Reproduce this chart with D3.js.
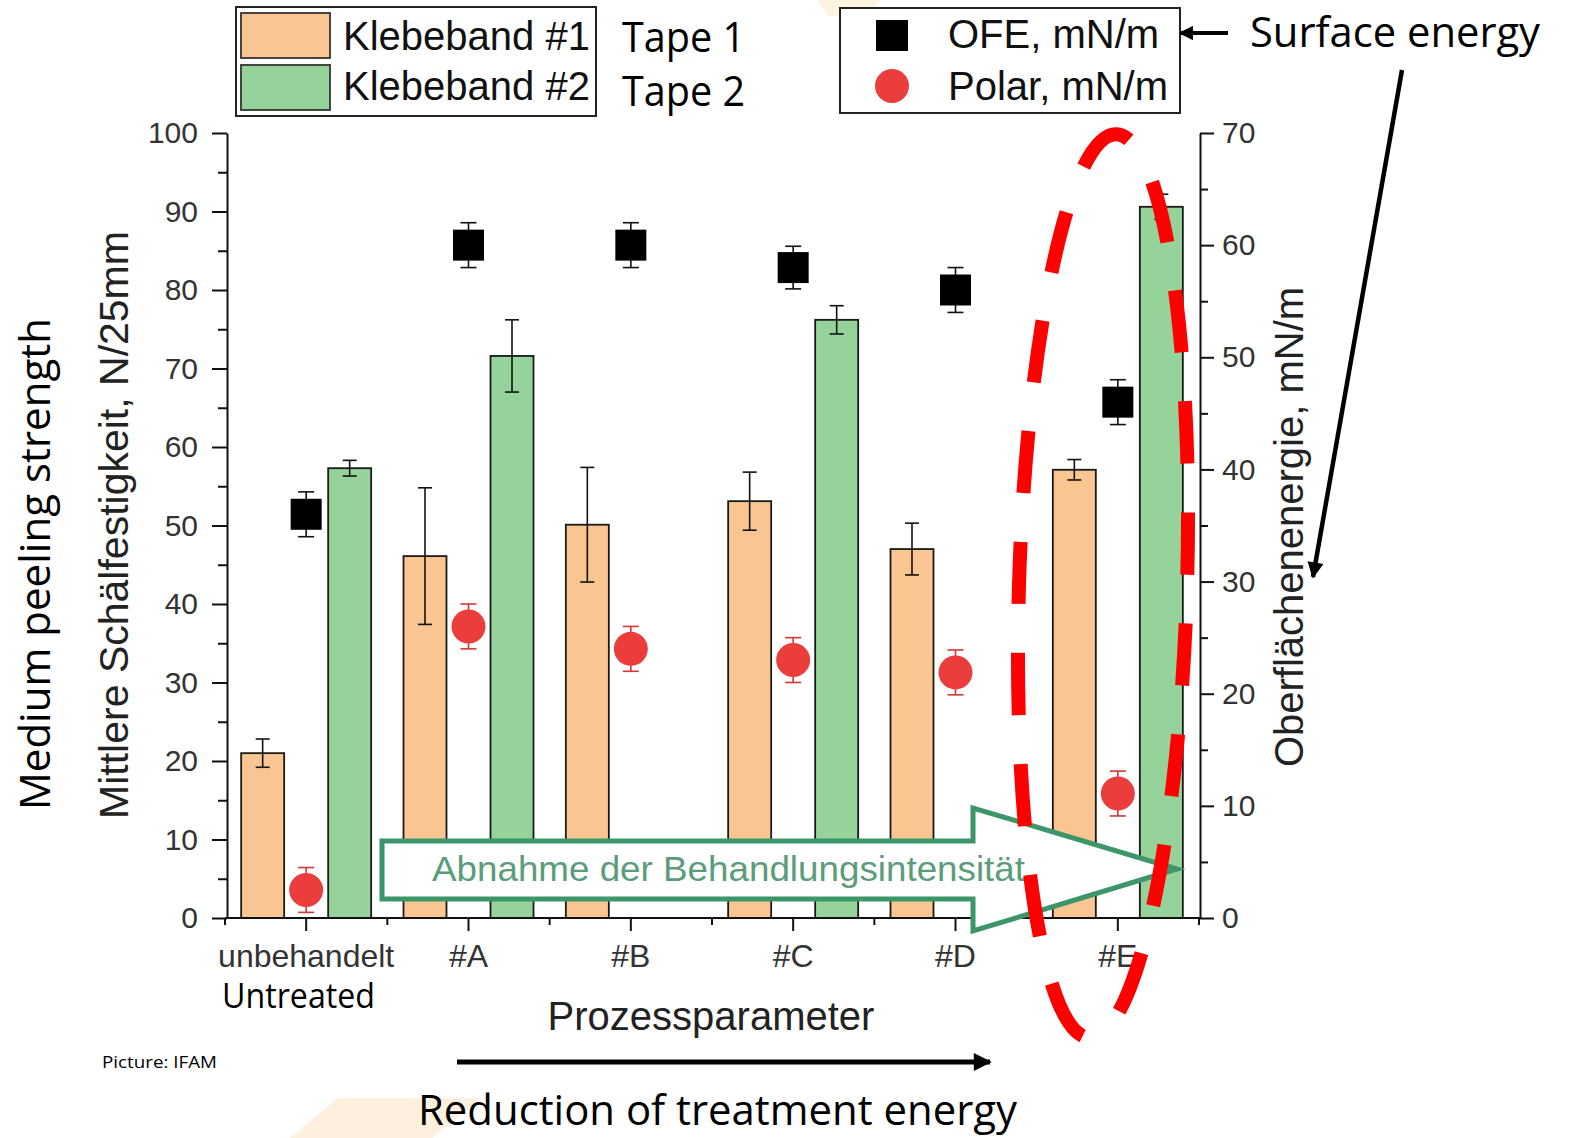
<!DOCTYPE html>
<meta charset="utf-8">
<head>
<style>
  body { margin: 0; background: #fff; }
  svg { display: block; }
  .tick text { font-family: "Liberation Sans", Arial, sans-serif; fill: #333; }
  .axis path, .axis line { stroke: #111; stroke-width: 2px; }
  .arial { font-family: "Liberation Sans", Arial, sans-serif; }
  .calibri { font-family: "Open Sans", sans-serif; fill: #000; }
</style>
</head>
<body>
<svg width="1570" height="1138"></svg>
<script src="https://d3js.org/d3.v7.min.js"></script>
<script>

// ---- data ----
var categories = ["unbehandelt", "#A", "#B", "#C", "#D", "#E"];
var tape1    = [21.0, 46.1, 50.1, 53.1, 47.0, 57.1];   // N/25mm
var tape1Err = [1.8, 8.7, 7.3, 3.7, 3.3, 1.3];
var tape2    = [57.3, 71.6, null, 76.2, null, 90.6];
var tape2Err = [1.0, 4.6, null, 1.8, null, 1.6];
var ofe      = [36.0, 60.0, 60.0, 58.0, 56.0, 46.0];   // mN/m, right axis
var ofeErr   = [2.0, 2.0, 2.0, 1.9, 2.0, 2.0];
var polar    = [2.5, 26.0, 24.0, 23.0, 21.9, 11.1];
var polarErr = [2.0, 2.0, 2.0, 2.0, 2.0, 2.0];
var leftTicks  = [0, 10, 20, 30, 40, 50, 60, 70, 80, 90, 100];
var rightTicks = [0, 10, 20, 30, 40, 50, 60, 70];

var svg = d3.select("svg");

var orange = "#f9c692", green = "#95d39a", red = "#ec3d3d", arrowGreen = "#3d9669";

// faint background logo pieces
svg.append("polygon").attr("points", "290,1138 338,1098 480,1098 432,1138").attr("fill", "#fdf0de");
svg.append("polygon").attr("points", "818,0 880,0 868,16 828,16").attr("fill", "#fdf1df");

var x = d3.scaleBand().domain(categories).range([225, 1199]).paddingInner(0).paddingOuter(0);
var yL = d3.scaleLinear().domain([0, 100]).range([918, 133]);
var yR = d3.scaleLinear().domain([0, 70]).range([918, 133]);
var cx = function(i) { return x(categories[i]) + x.bandwidth() / 2; };
var off = x.bandwidth() * 0.268, bw = 43;

// ---- bars ----
function bars(vals, errs, dx, fill) {
  var g = svg.append("g");
  vals.forEach(function(v, i) {
    if (v == null) return;
    g.append("rect")
      .attr("x", cx(i) + dx - bw / 2).attr("width", bw)
      .attr("y", yL(v)).attr("height", yL(0) - yL(v))
      .attr("fill", fill).attr("stroke", "#1a1a1a").attr("stroke-width", 1.8);
  });
  vals.forEach(function(v, i) {
    if (v == null) return;
    errBar(g, cx(i) + dx, yL(v + errs[i]), yL(v - errs[i]), 14, "#111", 1.6);
  });
}

function errBar(g, xc, y1, y2, w, col, sw) {
  g.append("line").attr("x1", xc).attr("x2", xc).attr("y1", y1).attr("y2", y2)
    .attr("stroke", col).attr("stroke-width", sw);
  [y1, y2].forEach(function(yy) {
    g.append("line").attr("x1", xc - w / 2).attr("x2", xc + w / 2).attr("y1", yy).attr("y2", yy)
      .attr("stroke", col).attr("stroke-width", sw);
  });
}

bars(tape1, tape1Err, -off, orange);
bars(tape2, tape2Err, off, green);

// ---- markers on right axis ----
var mk = svg.append("g");
ofe.forEach(function(v, i) {
  errBar(mk, cx(i), yR(v + ofeErr[i]), yR(v - ofeErr[i]), 16, "#111", 1.6);
  mk.append("rect").attr("x", cx(i) - 15.5).attr("y", yR(v) - 15.5)
    .attr("width", 31).attr("height", 31).attr("fill", "#000");
});
polar.forEach(function(v, i) {
  errBar(mk, cx(i), yR(v + polarErr[i]), yR(v - polarErr[i]), 16, "#d43535", 1.6);
  mk.append("circle").attr("cx", cx(i)).attr("cy", yR(v)).attr("r", 17).attr("fill", red);
});

// ---- axes ----
var gl = svg.append("g").attr("class", "axis").attr("transform", "translate(227,0)")
  .call(d3.axisLeft(yL).tickValues(leftTicks).tickSize(15).tickPadding(14).tickSizeOuter(0));
gl.selectAll(".tick text").style("font-size", "30px");
svg.append("g").attr("class", "axis").attr("transform", "translate(227,0)")
  .call(d3.axisLeft(yL).tickValues(d3.range(5, 100, 10)).tickSize(9).tickFormat("").tickSizeOuter(0))
  .select(".domain").remove();

var gr = svg.append("g").attr("class", "axis").attr("transform", "translate(1200,0)")
  .call(d3.axisRight(yR).tickValues(rightTicks).tickSize(14).tickPadding(8).tickSizeOuter(0));
gr.selectAll(".tick text").style("font-size", "30px");
svg.append("g").attr("class", "axis").attr("transform", "translate(1200,0)")
  .call(d3.axisRight(yR).tickValues(d3.range(5, 70, 10)).tickSize(8).tickFormat("").tickSizeOuter(0))
  .select(".domain").remove();

var gb = svg.append("g").attr("class", "axis").attr("transform", "translate(0,918)")
  .call(d3.axisBottom(x).tickSize(13).tickPadding(12).tickSizeOuter(0));
gb.selectAll(".tick text").style("font-size", "32px").attr("dy", "0.75em");
gb.select(".domain").attr("d", "M225,0H1200");
svg.append("g").attr("class", "axis").attr("transform", "translate(0,918)")
  .selectAll("line").data(categories.concat(["end"])).join("line")
  .attr("x1", function(d, i) { return 225 + i * x.bandwidth(); })
  .attr("x2", function(d, i) { return 225 + i * x.bandwidth(); })
  .attr("y1", 0).attr("y2", 7);

// axis titles
svg.append("text").attr("class", "arial").attr("transform", "translate(128,525) rotate(-90)")
  .attr("text-anchor", "middle").style("font-size", "41px").attr("fill", "#222")
  .text("Mittlere Schälfestigkeit,  N/25mm");
svg.append("text").attr("class", "arial").attr("transform", "translate(1303,527) rotate(-90)")
  .attr("text-anchor", "middle").style("font-size", "40px").attr("fill", "#222")
  .text("Oberflächenenergie, mN/m");
svg.append("text").attr("class", "arial").attr("x", 711).attr("y", 1030)
  .attr("text-anchor", "middle").style("font-size", "40px").attr("fill", "#222")
  .text("Prozessparameter");

// ---- green arrow ----
var arrowPts = [[382, 841], [973, 841], [973, 808], [1177, 869], [973, 931], [973, 899], [382, 899]];
svg.append("polygon").attr("points", arrowPts.map(function(p) { return p.join(","); }).join(" "))
  .attr("fill", "#fff").attr("stroke", arrowGreen).attr("stroke-width", 5).attr("stroke-linejoin", "miter");
svg.append("text").attr("class", "arial").attr("x", 432).attr("y", 881)
  .attr("textLength", 593).attr("lengthAdjust", "spacingAndGlyphs")
  .style("font-size", "35px").attr("fill", "#5b9c7b")
  .text("Abnahme der Behandlungsintensität");

// ---- red dashed ellipse ----
svg.append("ellipse").attr("cx", 0).attr("cy", 0).attr("rx", 84).attr("ry", 452)
  .attr("transform", "translate(1103,586) rotate(1.7)")
  .attr("pathLength", 1700)
  .attr("fill", "none").attr("stroke", "#ff0000").attr("stroke-width", 14)
  .attr("stroke-dasharray", "56 44").attr("stroke-dashoffset", 68.5);

// ---- legends ----
var lg1 = svg.append("g");
lg1.append("rect").attr("x", 236).attr("y", 7).attr("width", 360).attr("height", 109)
  .attr("fill", "#fff").attr("stroke", "#222").attr("stroke-width", 2);
[["Klebeband #1", orange], ["Klebeband #2", green]].forEach(function(d, i) {
  lg1.append("rect").attr("x", 241).attr("y", 13 + i * 52).attr("width", 89).attr("height", 45)
    .attr("fill", d[1]).attr("stroke", "#333").attr("stroke-width", 1.8);
  lg1.append("text").attr("class", "arial").attr("x", 343).attr("y", 50 + i * 50)
    .style("font-size", "40px").attr("fill", "#111").text(d[0]);
});

var lg2 = svg.append("g");
lg2.append("rect").attr("x", 840).attr("y", 8).attr("width", 340).attr("height", 105)
  .attr("fill", "#fff").attr("stroke", "#222").attr("stroke-width", 2);
lg2.append("rect").attr("x", 876).attr("y", 20).attr("width", 32).attr("height", 31).attr("fill", "#000");
lg2.append("circle").attr("cx", 892).attr("cy", 86).attr("r", 17).attr("fill", red);
lg2.append("text").attr("class", "arial").attr("x", 948).attr("y", 48)
  .style("font-size", "40px").attr("fill", "#111").text("OFE, mN/m");
lg2.append("text").attr("class", "arial").attr("x", 948).attr("y", 100)
  .style("font-size", "40px").attr("fill", "#111").text("Polar, mN/m");

// ---- annotations ----
function note(txt, xx, yy, size, width, rot) {
  var t = svg.append("text").attr("class", "calibri").style("font-size", size + "px")
    .attr("textLength", width).attr("lengthAdjust", "spacingAndGlyphs").text(txt);
  if (rot) t.attr("transform", "translate(" + xx + "," + yy + ") rotate(-90)").attr("x", -width / 2);
  else t.attr("x", xx).attr("y", yy);
  return t;
}
note("Tape 1", 622, 52, 42, 123);
note("Tape 2", 622, 106, 42, 123);
note("Surface energy", 1250, 47, 42, 290);
note("Untreated", 222, 1008, 34, 153);
note("Reduction of treatment energy", 418, 1125, 42, 599);
note("Medium peeling strength", 50, 564, 42, 492, true);
note("Picture: IFAM", 102, 1068, 17, 115);

var defs = svg.append("defs");
defs.append("marker").attr("id", "head").attr("viewBox", "0 0 10 10").attr("refX", 9).attr("refY", 5)
  .attr("markerWidth", 4).attr("markerHeight", 3.6).attr("markerUnits", "strokeWidth").attr("orient", "auto")
  .append("path").attr("d", "M0,0L10,5L0,10Z").attr("fill", "#000");

function arrow(x1, y1, x2, y2, sw) {
  svg.append("line").attr("x1", x1).attr("y1", y1).attr("x2", x2).attr("y2", y2)
    .attr("stroke", "#000").attr("stroke-width", sw).attr("marker-end", "url(#head)");
}
arrow(1228, 33, 1180, 33, 4);
arrow(1402, 70, 1313, 577, 4.5);
arrow(457, 1062, 990, 1062, 5);

</script>
</body>
